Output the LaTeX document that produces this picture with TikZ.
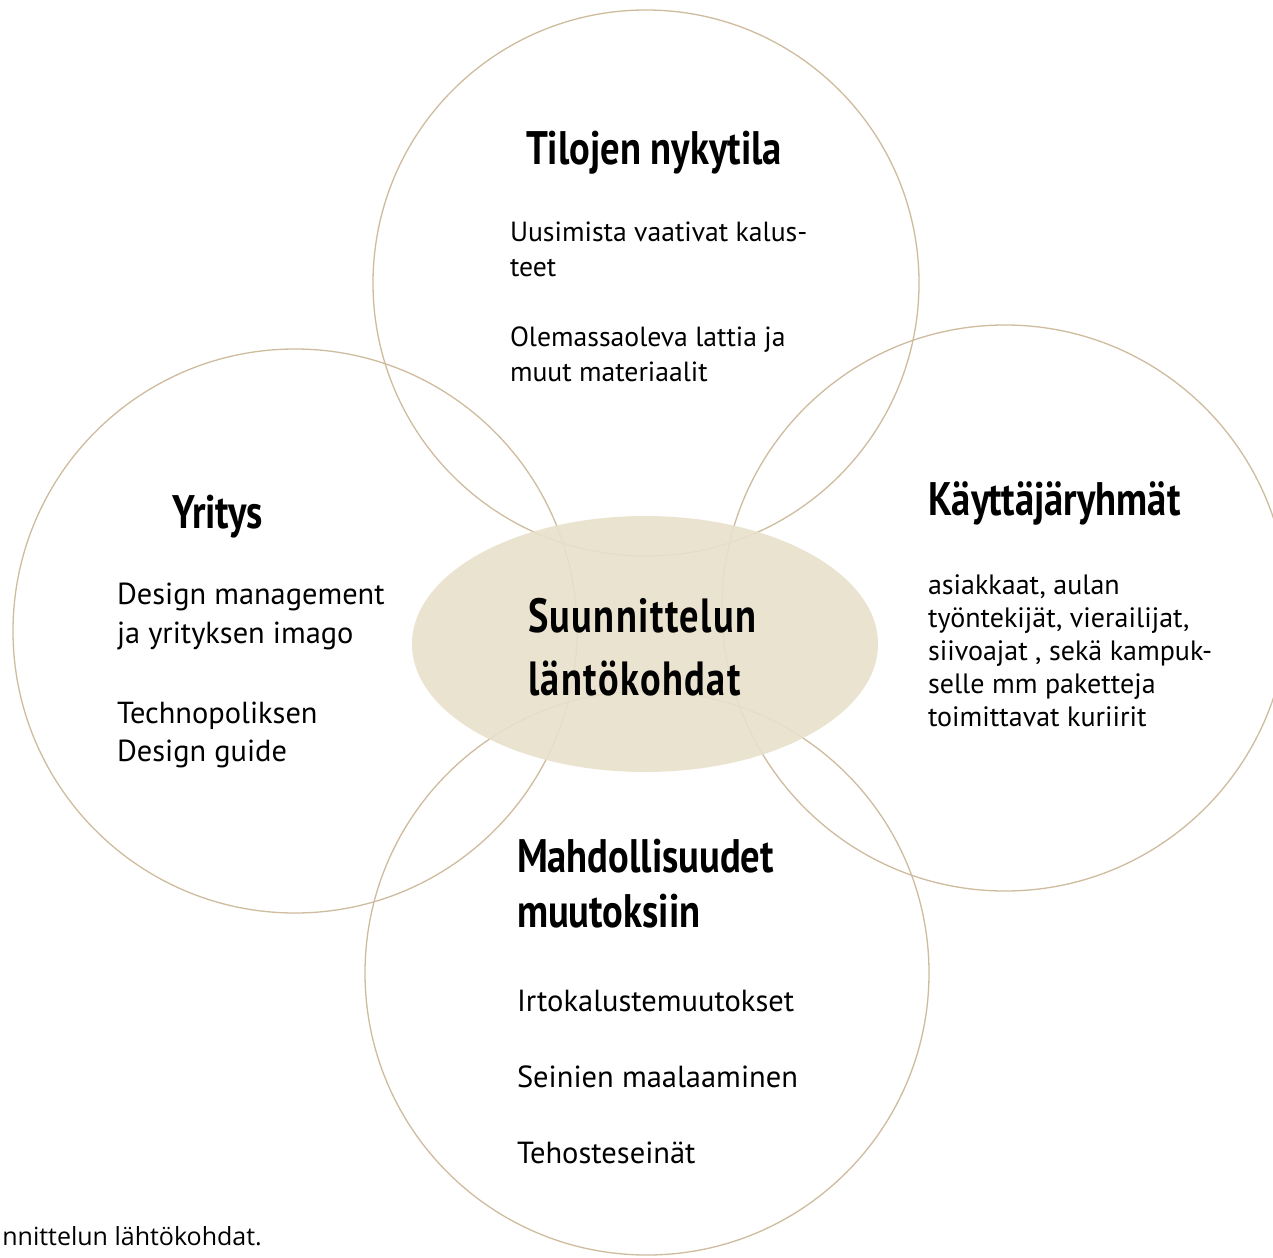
\documentclass[tikz,border=0pt]{standalone}
\usepackage{fontspec}
\setmainfont{PT Sans}
\newfontfamily\headfont[FakeStretch=0.82]{PT Sans}
\newfontfamily\centerfont[FakeStretch=0.8,LetterSpace=3]{PT Sans}
\newfontfamily\capfont{Open Sans}
\usetikzlibrary{shapes.geometric}
\definecolor{ringcol}{HTML}{CFBB9E}
\definecolor{ovalfill}{HTML}{E8E1CB}
\tikzset{
  ring/.style={draw=ringcol, line width=1.3pt, circle, inner sep=0pt, minimum size=#1},
  oval/.style={ellipse, fill=ovalfill, fill opacity=0.9, inner sep=0pt, minimum width=466pt, minimum height=256pt},
  txt/.style={anchor=base west, inner sep=0pt, outer sep=0pt},
  head/.style={txt, font=\headfont\bfseries\fontsize{47}{50}\selectfont},
  ctext/.style={txt, font=\centerfont\bfseries\fontsize{48}{52}\selectfont},
  bodyA/.style={txt, font=\fontsize{27.7}{32}\selectfont},
  bodyB/.style={txt, font=\fontsize{30.4}{34}\selectfont},
  bodyC/.style={txt, font=\fontsize{28}{32}\selectfont},
  bodyD/.style={txt, font=\fontsize{30.5}{34}\selectfont},
  captxt/.style={anchor=base east, inner sep=0pt, font=\capfont\fontsize{25}{28}\selectfont}
}
\begin{document}
\begin{tikzpicture}[x=1pt,y=-1pt]
\useasboundingbox (0,0) rectangle (1273,1257);
\clip (0,0) rectangle (1273,1257);
\fill[white] (0,0) rectangle (1273,1257);
% circles
\node[ring=546pt] (ctop) at (646,283) {};
\node[ring=564pt] (cleft) at (295,631) {};
\node[ring=566pt] (cright) at (1005,608) {};
\node[ring=564pt] (cbottom) at (647,973) {};
% central ellipse
\node[oval] (center) at (645,644) {};
% center text
\node[ctext] (c1) at (528,632) {Suunnittelun};
\node[ctext] (c2) at (528,695) {läntökohdat};
% top circle
\node[head] (h1) at (526,165) {Tilojen nykytila};
\node[bodyA] (t1) at (510,242) {Uusimista vaativat kalus-};
\node[bodyA] (t2) at (510,276) {teet};
\node[bodyA] (t3) at (510,346) {Olemassaoleva lattia ja};
\node[bodyA] (t4) at (510,381) {muut materiaalit};
% left circle
\node[head] (h2) at (172,528) {Yritys};
\node[bodyB] (l1) at (117,604) {Design management};
\node[bodyB] (l2) at (117,643) {ja yrityksen imago};
\node[bodyB] (l3) at (117,723) {Technopoliksen};
\node[bodyB] (l4) at (117,761) {Design guide};
% right circle
\node[head] (h3) at (928,515) {Käyttäjäryhmät};
\node[bodyC] (r1) at (928,594) {asiakkaat, aulan};
\node[bodyC] (r2) at (928,627) {työntekijät, vierailijat,};
\node[bodyC] (r3) at (928,660) {siivoajat , sekä kampuk-};
\node[bodyC] (r4) at (928,693) {selle mm paketteja};
\node[bodyC] (r5) at (928,726) {toimittavat kuriirit};
% bottom circle
\node[head] (h4) at (517,872) {Mahdollisuudet};
\node[head] (h4b) at (517,927) {muutoksiin};
\node[bodyD] (b1) at (517,1011) {Irtokalustemuutokset};
\node[bodyD] (b2) at (517,1087) {Seinien maalaaminen};
\node[bodyD] (b3) at (517,1163) {Tehosteseinät};
% caption
\node[captxt] (cap) at (262,1245) {nnittelun lähtökohdat.};
\end{tikzpicture}
\end{document}
